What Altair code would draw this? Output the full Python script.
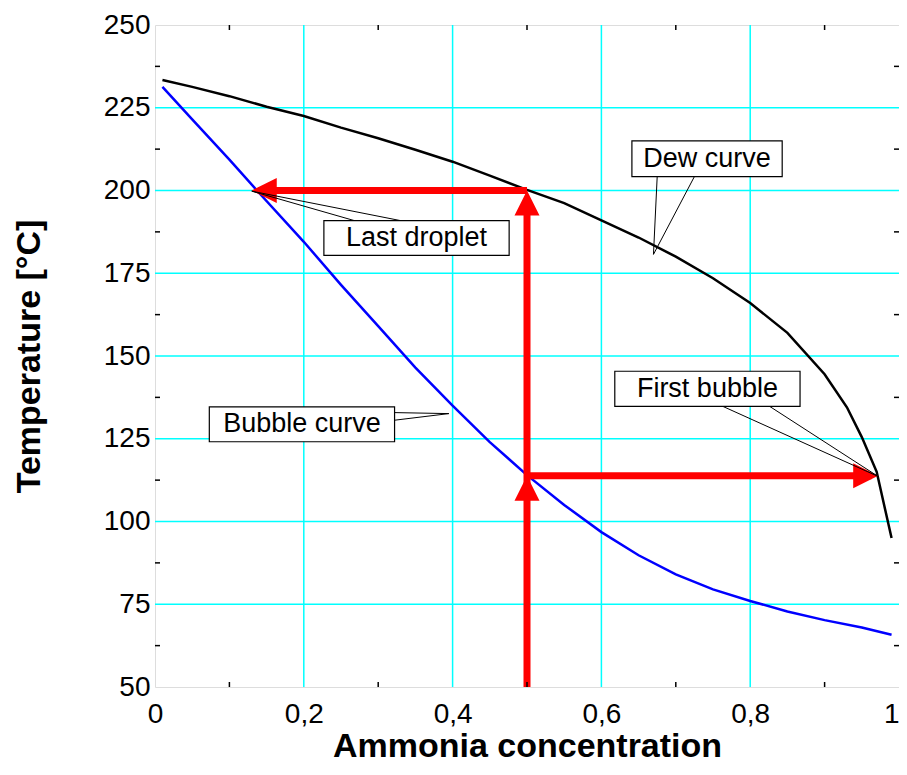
import altair as alt
import pandas as pd

# ---- curve data ----
dew_x = [0.01, 0.05, 0.10, 0.15, 0.20, 0.25, 0.30, 0.35, 0.40, 0.45, 0.50, 0.55,
         0.60, 0.65, 0.70, 0.75, 0.80, 0.85, 0.90, 0.93, 0.95, 0.97, 0.99]
dew_t = [233.4, 231.3, 228.5, 225.3, 222.5, 219.0, 215.8, 212.3, 208.7, 204.5, 200.2, 196.2,
         191.0, 185.8, 180.0, 173.5, 166.0, 157.0, 144.5, 134.5, 125.5, 115.0, 95.0]

bub_x = [0.01, 0.05, 0.10, 0.137, 0.20, 0.25, 0.30, 0.35, 0.40, 0.45, 0.50, 0.55,
         0.60, 0.65, 0.70, 0.75, 0.80, 0.85, 0.90, 0.95, 0.99]
bub_t = [231.3, 221.5, 209.3, 200.0, 184.5, 171.5, 159.0, 146.5, 135.0, 124.0, 114.0, 105.0,
         96.8, 89.8, 84.0, 79.5, 76.0, 72.8, 70.2, 68.0, 65.8]

# ---- axes ----
x_major = [0, 0.2, 0.4, 0.6, 0.8, 1.0]
y_major = [50, 75, 100, 125, 150, 175, 200, 225, 250]
x_grid = [0.2, 0.4, 0.6, 0.8]
y_grid = [75, 100, 125, 150, 175, 200, 225]
x_minor = [0.1, 0.3, 0.5, 0.7, 0.9]
y_minor = [62.5, 87.5, 112.5, 137.5, 162.5, 187.5, 212.5, 237.5]

# ---- annotations ----
ann_labels = ["Last droplet", "Dew curve", "Bubble curve", "First bubble"]
box_x1 = [0.227, 0.641, 0.073, 0.618]
box_x2 = [0.476, 0.843, 0.322, 0.867]
box_y1 = [180.4, 204.2, 124.1, 134.8]
box_y2 = [190.9, 215.0, 134.6, 145.4]
text_x = [0.3515, 0.742, 0.1975, 0.7425]
text_y = [185.65, 209.6, 129.35, 140.1]
tail_b1_x = [0.268, 0.675, 0.322, 0.763]
tail_b1_y = [190.9, 204.2, 132.9, 134.8]
tail_b2_x = [0.330, 0.725, 0.322, 0.826]
tail_b2_y = [190.9, 204.2, 130.6, 134.8]
tail_tip_x = [0.130, 0.670, 0.395, 0.972]
tail_tip_y = [199.8, 180.7, 132.6, 113.6]

# ---- red arrows ----
shaft_x1 = [0.5, 0.5, 0.5]
shaft_y1 = [50, 200, 113.8]
shaft_x2 = [0.5, 0.139, 0.963]
shaft_y2 = [197.5, 200, 113.8]
head_x = [0.5, 0.5, 0.13, 0.972]
head_y = [200, 113.8, 200, 113.8]
head_angle = [0, 0, 270, 90]

W, H = 744, 662
FONT = "Liberation Sans"

xs = alt.Scale(domain=[0, 1], nice=False, zero=False)
ys = alt.Scale(domain=[50, 250], nice=False, zero=False)

x_axis = alt.Axis(values=x_major, labelExpr="replace(format(datum.value, '.1~f'), '.', ',')",
                  ticks=False, grid=False, domain=False, labelFontSize=28, labelPadding=13,
                  labelFlush=False,
                  labelAlign=alt.ExprRef("datum.value == 1 ? 'right' : 'center'"),
                  labelColor="black", labelFont=FONT, title="Ammonia concentration",
                  titleFontSize=34, titleFontWeight="bold", titleFont=FONT, titleColor="black",
                  titlePadding=1)
y_axis = alt.Axis(values=y_major, ticks=False, grid=False, domain=False, labelFontSize=28,
                  labelPadding=5, labelFlush=False, labelColor="black", labelFont=FONT,
                  title="Temperature [°C]", titleFontSize=34, titleFontWeight="bold",
                  titleFont=FONT, titleColor="black", titlePadding=57)

curves = pd.DataFrame({"x": dew_x + bub_x, "t": dew_t + bub_t,
                       "curve": ["Dew"] * len(dew_x) + ["Bubble"] * len(bub_x),
                       "i": list(range(len(dew_x))) + list(range(len(bub_x)))})

base_line = alt.Chart(curves).mark_line(strokeWidth=2.5).encode(
    x=alt.X("x:Q", scale=xs, axis=x_axis),
    y=alt.Y("t:Q", scale=ys, axis=y_axis),
    color=alt.Color("curve:N", scale=alt.Scale(domain=["Dew", "Bubble"], range=["black", "#0000ff"]), legend=None),
    order="i:Q",
)

gx = alt.Chart(pd.DataFrame({"x": x_grid})).mark_rule(color="#00ffff", strokeWidth=1.5).encode(
    x=alt.X("x:Q", scale=xs), y=alt.value(0), y2=alt.value(H))
gy = alt.Chart(pd.DataFrame({"y": y_grid})).mark_rule(color="#00ffff", strokeWidth=1.5).encode(
    y=alt.Y("y:Q", scale=ys), x=alt.value(0), x2=alt.value(W))

mx = pd.DataFrame({"x": x_minor})
my = pd.DataFrame({"y": y_minor})
tk = dict(color="black", strokeWidth=1.5)
t_bot = alt.Chart(mx).mark_rule(**tk).encode(x=alt.X("x:Q", scale=xs), y=alt.value(H), y2=alt.value(H - 5))
t_top = alt.Chart(mx).mark_rule(**tk).encode(x=alt.X("x:Q", scale=xs), y=alt.value(0), y2=alt.value(5))
t_left = alt.Chart(my).mark_rule(**tk).encode(y=alt.Y("y:Q", scale=ys), x=alt.value(0), x2=alt.value(5))
t_right = alt.Chart(my).mark_rule(**tk).encode(y=alt.Y("y:Q", scale=ys), x=alt.value(W - 5), x2=alt.value(W))

shafts = alt.Chart(pd.DataFrame({"x": shaft_x1, "y": shaft_y1, "x2": shaft_x2, "y2": shaft_y2})).mark_rule(
    color="red", strokeWidth=7).encode(
    x=alt.X("x:Q", scale=xs), y=alt.Y("y:Q", scale=ys), x2="x2:Q", y2="y2:Q")

heads = alt.Chart(pd.DataFrame({"x": head_x, "y": head_y, "a": head_angle})).mark_point(
    shape="M0,0L1,2L-1,2Z", filled=True, size=625, color="red", opacity=1, strokeWidth=0).encode(
    x=alt.X("x:Q", scale=xs), y=alt.Y("y:Q", scale=ys), angle=alt.Angle("a:Q", scale=None))

tails_df = pd.DataFrame({"x": tail_b1_x + tail_b2_x, "y": tail_b1_y + tail_b2_y,
                         "x2": tail_tip_x + tail_tip_x, "y2": tail_tip_y + tail_tip_y})
tails = alt.Chart(tails_df).mark_rule(color="black", strokeWidth=1).encode(
    x=alt.X("x:Q", scale=xs), y=alt.Y("y:Q", scale=ys), x2="x2:Q", y2="y2:Q")

boxes = alt.Chart(pd.DataFrame({"x": box_x1, "x2": box_x2, "y": box_y1, "y2": box_y2})).mark_rect(
    fill="white", stroke="black", strokeWidth=1.2).encode(
    x=alt.X("x:Q", scale=xs), x2="x2:Q", y=alt.Y("y:Q", scale=ys), y2="y2:Q")

texts = alt.Chart(pd.DataFrame({"x": text_x, "y": text_y, "label": ann_labels})).mark_text(
    fontSize=27, font=FONT, color="black", align="center", baseline="middle").encode(
    x=alt.X("x:Q", scale=xs), y=alt.Y("y:Q", scale=ys), text="label:N")

chart = alt.layer(gx, gy, base_line, shafts, heads, tails, boxes, texts,
                  t_bot, t_top, t_left, t_right).properties(
    width=W, height=H,
    autosize=alt.AutoSizeParams(type="none"),
    padding={"left": 147, "top": 17, "right": 0, "bottom": 76},
).configure_view(stroke="black", strokeWidth=2).configure(background="white")

chart.save("out.html", embed_options={"renderer": "svg", "actions": False})
